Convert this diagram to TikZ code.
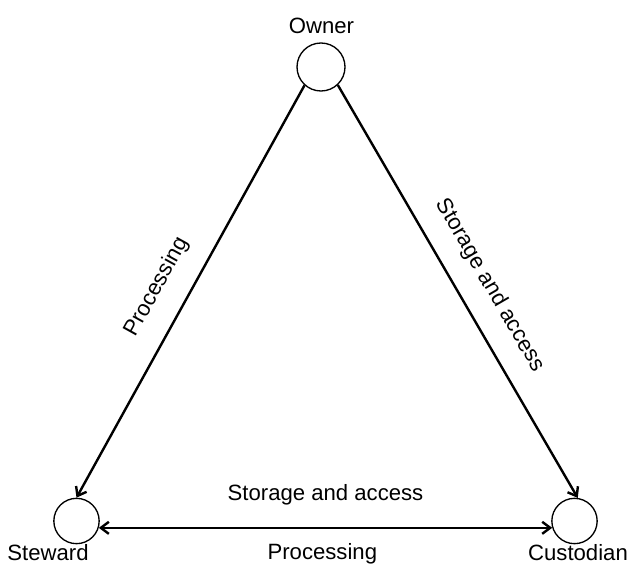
\documentclass[tikz,border=0pt]{standalone}
\usepackage{fontspec}
\setmainfont{Liberation Sans}
\usetikzlibrary{arrows.meta}

\tikzset{
  every role/.style={circle, draw, line width=1pt, inner sep=0pt},
  every tag/.style={inner sep=0pt, font=\fontsize{16.6}{19}\selectfont},
}

\begin{document}
\begin{tikzpicture}[x=0.75pt, y=-0.75pt, >={Straight Barb[length=6pt,width=9pt]}, line width=1.8pt]
\useasboundingbox (0,0) rectangle (630,563);

\foreach \n/\x/\y/\s in {owner/321/67/36, steward/76.5/521/34, custodian/574.5/521/34}
  \node [every role, minimum size=\s pt] (\n) at (\x,\y) {};

\foreach \n/\l/\x/\y in {owner/Owner/321.5/34, steward/Steward/48/560, custodian/Custodian/578/560}
  \node [every tag, anchor=base] (\n-name) at (\x,\y) {\l};

\draw [<-] (steward.90) -- (owner.228)
  node [every tag, sloped, above=15pt, pos=0.474] (left-label) {Processing};

\draw [->] (owner.313) -- (custodian.82)
  node [every tag, sloped, above=14.5pt, pos=0.523] (right-label) {Storage and access};

\draw [<->] (steward.-17) -- (custodian.197)
  node [every tag, above=16pt, midway] (top-label) {Storage and access}
  node [every tag, below=10.5pt, pos=0.493] (bottom-label) {Processing};
\end{tikzpicture}
\end{document}
